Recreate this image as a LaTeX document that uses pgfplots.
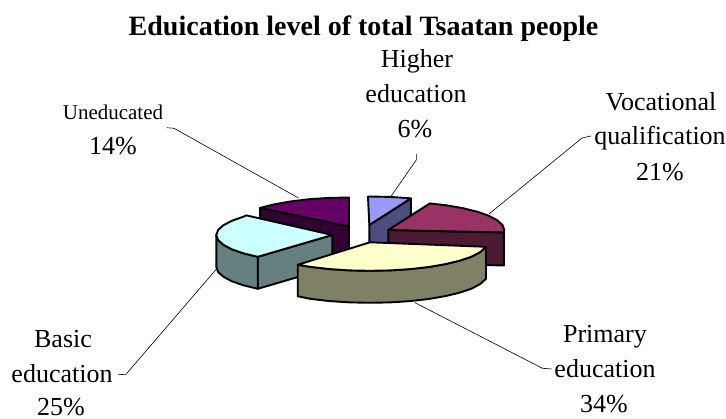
\documentclass[border=0pt]{standalone}
\usepackage{fontspec}
\setmainfont{Liberation Serif}
\usepackage{pgfplots}
\pgfplotsset{compat=1.18}
% label placed by its baseline centre
\newcommand{\lab}[3]{\node[anchor=base,inner sep=0pt,font=\fontsize{26}{26}\selectfont] at (axis cs:#1,#2) {#3};}
\definecolor{higherTop}{HTML}{9999FF}
\definecolor{higherSide}{HTML}{4D4D80}
\definecolor{vocTop}{HTML}{993366}
\definecolor{vocSide}{HTML}{4D1A33}
\definecolor{primTop}{HTML}{FFFFCC}
\definecolor{primSide}{HTML}{808066}
\definecolor{basicTop}{HTML}{CCFFFF}
\definecolor{basicSide}{HTML}{668080}
\definecolor{unedTop}{HTML}{660066}
\definecolor{unedSide}{HTML}{330033}
\begin{document}
\begin{tikzpicture}
\useasboundingbox (0,0) rectangle (726pt,419pt);
\begin{axis}[
  at={(0,0)}, anchor=south west,
  scale only axis, width=726pt, height=419pt,
  xmin=0, xmax=726, ymin=0, ymax=419, y dir=reverse,
  hide axis, clip=false,
  slice/.style={draw=black, line width=1.9pt, line join=round, fill=#1},
  leader/.style={draw=black, line width=0.6pt},
]
% leader lines
\addplot[leader] coordinates {(416.3,154) (416.3,160) (390.5,197)};
\addplot[leader] coordinates {(591,136) (582,138) (489,214)};
\addplot[leader] coordinates {(167,127.7) (174,128.3) (298.5,198)};
\addplot[leader] coordinates {(118,374.7) (126,374.3) (216.5,269)};
\addplot[leader] coordinates {(551.7,369) (542.4,368.3) (415,302.7)};

% Higher education, 6%
\addplot[slice=higherSide] coordinates {(369.3,225) (410.9,198.4) (410.9,230.4) (369.3,257)} --cycle;
\addplot[slice=higherTop] coordinates {(369.3,225) (368,196.5) (389.5,196.9) (409,198.2) (410.9,198.4)} --cycle;

% Uneducated, 14%
\addplot[slice=unedSide] coordinates {(349,226.5) (260.1,207.9) (260.1,239.9) (349,258.5)} --cycle;
\addplot[slice=unedTop] coordinates {(349,226.5) (349,197.5) (328.8,197.9) (309.3,199.2) (291,201.4) (274.4,204.3) (260.1,207.9)} --cycle;

% Vocational qualification, 21%
\addplot[slice=vocSide] coordinates {(388.3,230) (503.9,232.5) (503.9,265.5) (388.3,263)} --cycle;
\addplot[slice=vocTop] coordinates {(388.3,230) (429.9,203.4) (446.3,205.3) (462.9,208.2) (477.2,211.7) (488.8,215.8) (497.3,220.3) (502.5,225) (504.3,230) (503.9,232.5)} --cycle;

% Basic education, 25%
\addplot[slice=basicSide] coordinates {(257.7,256.8) (332.3,235) (332.3,267) (257.7,288.8)} --cycle;
\addplot[slice=basicSide] coordinates {(216.3,235) (218.1,240) (223.3,244.7) (231.8,249.3) (243.4,253.3) (257.7,256.8) (257.7,288.8) (243.4,285.3) (231.8,281.3) (223.3,276.7) (218.1,272) (216.3,267)} --cycle;
\addplot[slice=basicTop] coordinates {(332.3,235) (257.7,256.8) (243.4,253.3) (231.8,249.3) (223.3,244.7) (218.1,240) (216.3,235) (218.1,230) (223.3,225.3) (231.8,220.8) (243.4,216.7) (246.5,215.4)} --cycle;

% Primary education, 34%
\addplot[slice=primSide] coordinates {(486,246.8) (480.3,252) (471.7,256.6) (459.9,260.6) (445.5,264.1) (428.7,267) (410.2,269.1) (390.4,270.4) (370,270.8) (349.6,270.4) (329.8,269.1) (311.3,267) (297.7,264.8) (297.7,296.3) (311.3,299) (329.8,301.1) (349.6,302.4) (370,302.8) (390.4,302.4) (410.2,301.1) (428.7,299) (445.5,296.1) (459.9,292.6) (471.7,288.6) (480.3,284) (486,278.8)} --cycle;
\addplot[slice=primTop] coordinates {(370,242.3) (486,246.8) (480.3,252) (471.7,256.6) (459.9,260.6) (445.5,264.1) (428.7,267) (410.2,269.1) (390.4,270.4) (370,270.8) (349.6,270.4) (329.8,269.1) (311.3,267) (297.7,264.8)} --cycle;

% title
\node[anchor=base,inner sep=0pt,font=\fontsize{28}{28}\selectfont\bfseries] at (axis cs:363.5,36) {Eduication level of total Tsaatan people};
% slice labels
\lab{417}{68}{Higher}
\lab{416}{102.7}{education}
\lab{415}{138}{6\%}
\node[anchor=base,inner sep=0pt,font=\fontsize{21}{21}\selectfont] at (axis cs:113,120) {Uneducated};
\lab{113}{155}{14\%}
\lab{661}{110.7}{Vocational}
\lab{660}{145}{qualification}
\lab{660}{181}{21\%}
\lab{63}{348}{Basic}
\lab{62}{383}{education}
\lab{61}{416}{25\%}
\lab{605}{342.7}{Primary}
\lab{605}{377.7}{education}
\lab{604}{413}{34\%}
\end{axis}
\end{tikzpicture}
\end{document}
